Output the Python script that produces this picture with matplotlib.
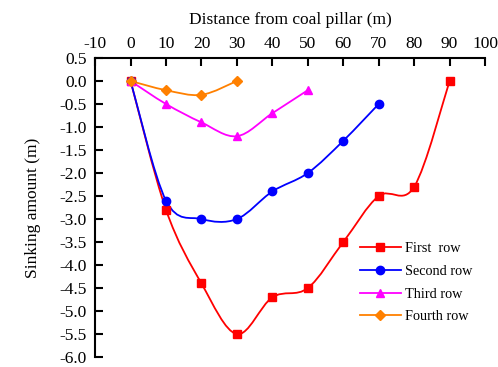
import numpy as np
import matplotlib.pyplot as plt
from matplotlib.path import Path
from matplotlib.patches import PathPatch
from matplotlib.lines import Line2D

plt.rcParams['font.family'] = ['Liberation Serif', 'DejaVu Serif']
plt.rcParams['axes.unicode_minus'] = False

dist_first = [0, 10, 20, 30, 40, 50, 60, 70, 80, 90]
sink_first = [0, -2.8, -4.4, -5.5, -4.7, -4.5, -3.5, -2.5, -2.3, 0]
dist_second = [0, 10, 20, 30, 40, 50, 60, 70]
sink_second = [0, -2.6, -3.0, -3.0, -2.4, -2.0, -1.3, -0.5]
dist_third = [0, 10, 20, 30, 40, 50]
sink_third = [0, -0.5, -0.9, -1.2, -0.7, -0.2]
dist_fourth = [0, 10, 20, 30]
sink_fourth = [0, -0.2, -0.3, 0]

labels = ["First  row", "Second row", "Third row", "Fourth row"]
colors = ["#ff0000", "#0000ff", "#ff00ff", "#ff8000"]
markers = ["s", "o", "^", "D"]


def smooth_path(x, y, t=1/6):
    # excel-like smoothed line as cubic bezier segments
    x = np.asarray(x, float)
    y = np.asarray(y, float)
    n = len(x)
    verts = [(x[0], y[0])]
    codes = [Path.MOVETO]
    for i in range(n - 1):
        p0 = i - 1 if i > 0 else i
        p3 = i + 2 if i + 2 < n else i + 1
        c1 = (x[i] + (x[i + 1] - x[p0]) * t, y[i] + (y[i + 1] - y[p0]) * t)
        c2 = (x[i + 1] - (x[p3] - x[i]) * t, y[i + 1] - (y[p3] - y[i]) * t)
        verts += [c1, c2, (x[i + 1], y[i + 1])]
        codes += [Path.CURVE4] * 3
    return Path(verts, codes)


fig = plt.figure(figsize=(4.98, 3.67), dpi=100)
ax = fig.add_axes([0.191, 0.027, 0.783, 0.815])

series = [(dist_first, sink_first), (dist_second, sink_second),
          (dist_third, sink_third), (dist_fourth, sink_fourth)]
handles = []
for (xs, ys), lab, c, m in zip(series, labels, colors, markers):
    ax.add_patch(PathPatch(smooth_path(xs, ys), facecolor="none",
                           edgecolor=c, lw=1.3))
    ms = 6 if m != "D" else 5.5
    ax.plot(xs, ys, ls="none", marker=m, color=c, ms=ms)
    handles.append(Line2D([], [], color=c, marker=m, ms=ms, lw=1.3, label=lab))

ax.set_xlim(-10, 100)
ax.set_ylim(-6.0, 0.5)
ax.set_xticks(np.arange(-10, 101, 10))
ax.set_yticks(np.arange(-6.0, 0.51, 0.5))
ax.set_yticklabels([f"{v:.1f}" for v in np.arange(-6.0, 0.51, 0.5)])
ax.xaxis.tick_top()
ax.xaxis.set_label_position("top")
ax.spines["right"].set_visible(False)
ax.spines["bottom"].set_visible(False)
ax.spines["top"].set_linewidth(1.5)
ax.spines["left"].set_linewidth(1.5)
ax.tick_params(direction="in", length=6, width=1.5, labelsize=12.5)
ax.tick_params(axis="x", pad=4)
ax.tick_params(axis="y", pad=6)
ax.set_xlabel("Distance from coal pillar (m)", fontsize=12.5, labelpad=9)
ax.set_ylabel("Sinking amount (m)", fontsize=12.5, labelpad=13)

ax.legend(handles=handles, loc="lower right", bbox_to_anchor=(1.0, 0.07),
          frameon=False, fontsize=10.3, handlelength=2.8, handletextpad=0.3,
          labelspacing=0.68)

fig.savefig("out.png", dpi=100)
